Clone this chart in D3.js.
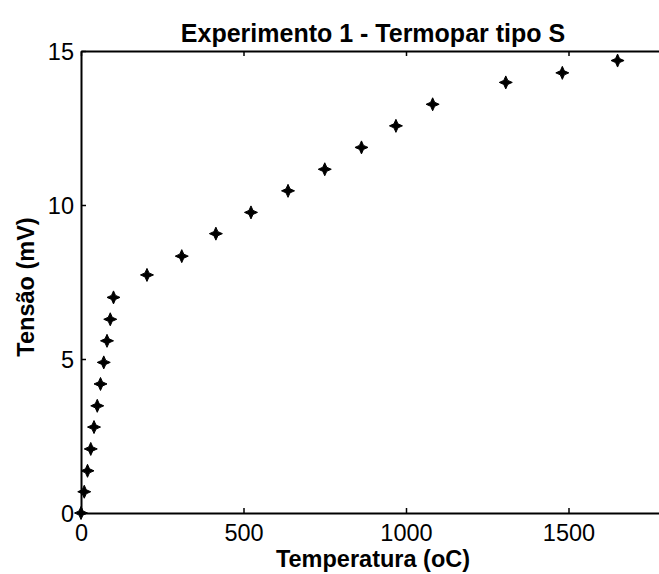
<!DOCTYPE html>
<html>
<head>
<meta charset="utf-8">
<script src="https://cdn.jsdelivr.net/npm/d3@7"></script>
<style>
  body { margin: 0; background: #fff; }
  svg { display: block; font-family: "Liberation Sans", Arial, sans-serif; }
</style>
</head>
<body>
<div class="container"></div>
<script>
// Temperatura (oC) e tensão (mV)
const temperatura = [0, 10, 20, 30, 40, 50, 60, 70, 80, 90, 100,
                     203, 310, 415, 523, 637, 750, 863, 969, 1082, 1307, 1481, 1651]
const tensao = [0, 0.69, 1.37, 2.08, 2.79, 3.48, 4.19, 4.89, 5.59, 6.29, 7.0,
                7.73, 8.34, 9.07, 9.76, 10.46, 11.16, 11.87, 12.57, 13.27, 13.98, 14.29, 14.69]
const xTicks = [0, 500, 1000, 1500]
const yTicks = [0, 5, 10, 15]

const width = 659
const height = 574
const margin = {top: 51, right: -7, bottom: 61, left: 81}
const fontSize = "23.5px"

const svg = d3.select(".container")
    .append("svg")
    .attr("width", width)
    .attr("height", height)

const x = d3.scaleLinear()
    .domain([0, 1800])
    .range([margin.left, width - margin.right])

const y = d3.scaleLinear()
    .domain([0, 15])
    .range([height - margin.bottom, margin.top])

// Eixos (ticks para dentro, estilo MATLAB)
const xAxis = d3.axisBottom(x).tickValues(xTicks).tickFormat(d3.format("d")).tickSizeInner(-5).tickSizeOuter(0)
const yAxis = d3.axisLeft(y).tickValues(yTicks).tickFormat(d3.format("d")).tickSizeInner(-5).tickSizeOuter(0)
const xTop = d3.axisTop(x).tickValues(xTicks).tickSizeInner(-5).tickSizeOuter(0).tickFormat("")

const gx = svg.append("g")
    .attr("transform", `translate(0, ${y(0)})`)
    .call(xAxis)
const gy = svg.append("g")
    .attr("transform", `translate(${x(0)}, 0)`)
    .call(yAxis)
const gt = svg.append("g")
    .attr("transform", `translate(0, ${y(15)})`)
    .call(xTop)

;[gx, gy, gt].forEach(g => {
    g.select(".domain").attr("stroke", "#000").attr("stroke-width", 2)
    g.selectAll(".tick line").attr("stroke", "#000").attr("stroke-width", 1.5)
    g.selectAll(".tick text")
        .attr("fill", "#000")
        .style("font-size", fontSize)
})
gy.selectAll(".tick text").attr("dy", "0.35em").attr("x", -7)
gx.selectAll(".tick text").attr("dy", 0).attr("y", 28)

// Marcadores
const star = "M0,-6.5L2,-2L6.5,0L2,2L0,6.5L-2,2L-6.5,0L-2,-2Z"
svg.append("g")
    .selectAll("path")
    .data(temperatura.map((t, i) => ({t: t, v: tensao[i]})))
    .enter()
    .append("path")
    .attr("d", star)
    .attr("transform", d => `translate(${x(d.t)}, ${y(d.v)})`)
    .attr("fill", "#000")
    .attr("stroke", "#000")
    .attr("stroke-width", 1)

// Títulos
svg.append("text")
    .attr("x", 373)
    .attr("y", 42)
    .attr("text-anchor", "middle")
    .style("font-size", "25px")
    .style("font-weight", "bold")
    .text("Experimento 1 - Termopar tipo S")

svg.append("text")
    .attr("x", 373)
    .attr("y", 567)
    .attr("text-anchor", "middle")
    .style("font-size", fontSize)
    .style("font-weight", "bold")
    .text("Temperatura (oC)")

svg.append("text")
    .attr("transform", `translate(34, 287) rotate(-90)`)
    .attr("text-anchor", "middle")
    .style("font-size", fontSize)
    .style("font-weight", "bold")
    .text("Tensão (mV)")
</script>
</body>
</html>
